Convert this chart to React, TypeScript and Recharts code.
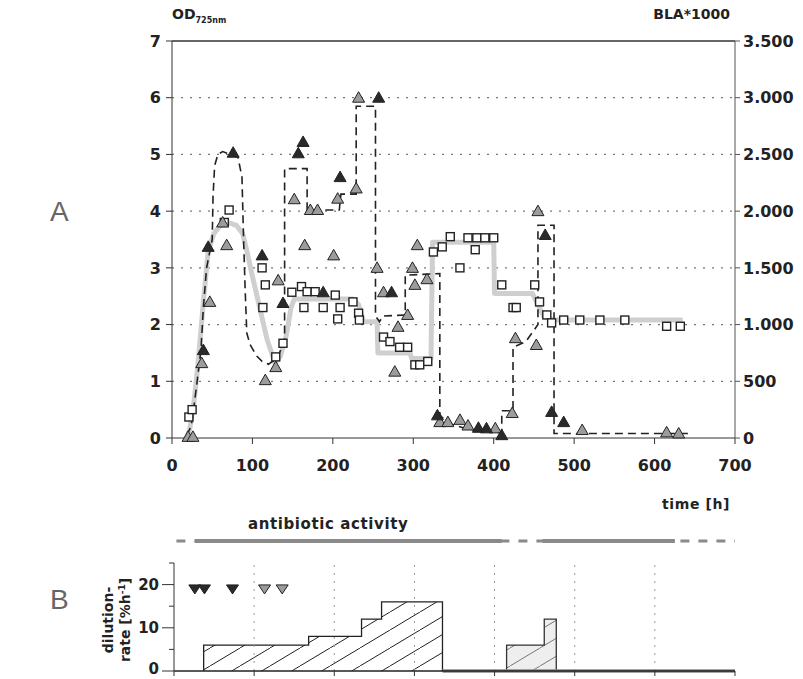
import React from "react";
import { Area, ComposedChart, Line, LineChart, ReferenceLine, Scatter, XAxis, YAxis } from "recharts";

type Pt = [number, number];

// axes
const timeTicks = [0, 100, 200, 300, 400, 500, 600, 700];
const odTicks = [0, 1, 2, 3, 4, 5, 6, 7];
const odGrid = [1, 2, 3, 4, 5, 6];
const blaTicks = [0, 500, 1000, 1500, 2000, 2500, 3000, 3500];
const blaTickLabels = ["0", "500", "1.000", "1.500", "2.000", "2.500", "3.000", "3.500"];
const dilutionTicks = [0, 5, 10, 15, 20, 25];
const dilutionMajor = [0, 10, 20];
const bGridTimes = [100, 200, 300, 400, 500, 600];

// panel A: OD (dashed line + triangles), BLA*1000 (grey line + squares)
const odDashed: Pt[] = [
  [18, 0.05], [22, 0.15], [25, 0.3], [31, 0.97], [36, 1.55], [39, 2.3], [43, 3.0], [50, 3.5],
  [51, 4.25], [53, 4.8], [57, 5.0], [63, 5.05], [82, 4.95], [87, 4.6], [89, 3.5], [91, 2.6],
  [93, 1.85], [97, 1.65], [105, 1.45], [112, 1.35], [120, 1.3], [130, 1.4], [137, 1.6], [140, 1.65],
  [140, 4.75], [168, 4.75], [168, 4.02], [208, 4.02], [210, 4.3], [229, 4.3], [229, 5.85], [253, 5.85],
  [253, 2.15], [258, 2.05], [262, 2.15], [290, 2.17], [290, 2.87], [333, 2.9], [333, 0.4], [345, 0.25],
  [370, 0.15], [400, 0.1], [410, 0.1], [410, 0.48], [424, 0.48], [424, 1.6], [440, 1.7], [455, 2.0],
  [455, 3.75], [475, 3.75], [475, 0.08], [645, 0.08],
];

const blaLine: Pt[] = [
  [18, 0], [22, 75], [27, 300], [32, 625], [36, 950], [39, 1200], [45, 1650], [52, 1800], [60, 1875],
  [70, 1900], [80, 1875], [88, 1800], [93, 1650], [100, 1425], [109, 1150], [118, 875], [128, 660],
  [135, 725], [142, 900], [148, 1150], [152, 1225], [225, 1225], [232, 1175], [238, 1025], [255, 1025],
  [256, 750], [296, 750], [298, 700], [322, 700], [324, 1725], [400, 1725], [401, 1275], [448, 1275],
  [455, 1175], [462, 1075], [475, 1040], [635, 1040],
];

const blaSquares: Pt[] = [
  [21, 185], [25, 250], [65, 1900], [71, 2010], [112, 1500], [116, 1350], [113, 1150], [129, 715],
  [138, 835], [149, 1285], [161, 1335], [168, 1290], [178, 1290], [164, 1150], [188, 1150], [209, 1150],
  [206, 1050], [203, 1260], [225, 1200], [232, 1100], [233, 1040], [263, 890], [271, 850], [283, 800],
  [293, 800], [302, 645], [308, 645], [318, 675], [325, 1640], [336, 1685], [346, 1775], [368, 1765],
  [379, 1765], [389, 1765], [400, 1765], [377, 1660], [358, 1500], [410, 1350], [451, 1350], [424, 1150],
  [428, 1150], [457, 1200], [466, 1085], [472, 1015], [487, 1040], [507, 1040], [532, 1040], [563, 1040],
  [615, 985], [632, 985],
];

const odBlackTriangles: Pt[] = [
  [39, 1.55], [45, 3.37], [76, 5.03], [112, 3.22], [138, 2.38], [157, 5.02], [163, 5.22], [188, 2.57],
  [209, 4.6], [257, 6.0], [273, 2.57], [330, 0.4], [381, 0.18], [391, 0.17], [410, 0.05], [464, 3.58],
  [472, 0.46], [487, 0.28],
];

const odGrayTriangles: Pt[] = [
  [20, 0.02], [26, 0.02], [37, 1.32], [47, 2.4], [63, 3.8], [68, 3.4], [116, 1.02], [129, 1.25],
  [132, 2.78], [152, 4.21], [165, 3.4], [172, 4.02], [181, 4.02], [201, 3.22], [206, 4.22], [229, 4.4],
  [232, 6.0], [255, 3.0], [263, 2.57], [277, 1.17], [281, 1.96], [293, 2.17], [299, 3.0], [302, 2.7],
  [305, 3.4], [317, 2.8], [333, 0.28], [343, 0.28], [358, 0.32], [368, 0.22], [402, 0.17], [423, 0.44],
  [427, 1.76], [453, 1.64], [455, 4.0], [510, 0.14], [615, 0.1], [630, 0.08],
];

// panel B: dilution rate steps [start time, rate from there on]
const dilutionSteps1: Pt[] = [[37, 6], [168, 8], [234, 12], [259, 16], [335, 0]];
const dilutionSteps2: Pt[] = [[415, 6], [462, 12], [477, 0]];
const dilutionZero: Pt[] = [[335, 0], [700, 0]];
const washBlack: Pt[] = [[26, 19], [38, 19], [73, 19]];
const washGray: Pt[] = [[113, 19], [135, 19]];

// antibiotic activity bar
const activityAll: Pt[] = [[3, 0.5], [700, 0.5]];
const activityOn1: Pt[] = [[26, 0.5], [409, 0.5]];
const activityOn2: Pt[] = [[460, 0.5], [625, 0.5]];

const rows = (pts: Pt[]) => pts.map(([t, v]) => ({ t, v }));

const stepRows = (steps: Pt[]) => {
  const out = [{ t: steps[0][0], v: 0 }];
  steps.forEach(([t, v], i) => {
    if (i > 0) out.push({ t, v: steps[i - 1][1] });
    out.push({ t, v });
  });
  return out;
};

const FONT = "'DejaVu Sans', 'Liberation Sans', sans-serif";
const tickStyle = { fontFamily: FONT, fontWeight: 700, fontSize: 16, fill: "#222" };

const triangle = (fill: string) => (props: any) => {
  const { cx, cy } = props;
  return <path d={`M${cx},${cy - 6} L${cx + 6},${cy + 4.5} L${cx - 6},${cy + 4.5} Z`} fill={fill} stroke="#222" strokeWidth={1} />;
};

const downTriangle = (fill: string) => (props: any) => {
  const { cx, cy } = props;
  return <path d={`M${cx - 6},${cy - 4} L${cx + 6},${cy - 4} L${cx},${cy + 5} Z`} fill={fill} stroke="#222" strokeWidth={1} />;
};

const square = (props: any) => {
  const { cx, cy } = props;
  return <rect x={cx - 4} y={cy - 4} width={8} height={8} fill="#fff" stroke="#222" strokeWidth={1.4} />;
};

// left tick of panel B: long ticks with labels at 0/10/20, short ones between
const dilutionTick = (p: any) => {
  const v = Number(p.payload.value);
  const major = dilutionMajor.includes(v);
  const len = major ? 12 : 5;
  return (
    <g>
      <line x1={p.x - len} x2={p.x} y1={p.y} y2={p.y} stroke="#333" />
      {major ? (
        <text x={p.x - len - 3} y={p.y + (v === 0 ? 3 : 5.5)} textAnchor="end" fill="#222" fontFamily={FONT} fontWeight={700} fontSize={15}>
          {String(v)}
        </text>
      ) : null}
    </g>
  );
};

const label = (style: React.CSSProperties): React.CSSProperties => ({
  position: "absolute",
  fontFamily: FONT,
  fontWeight: 700,
  color: "#222",
  whiteSpace: "nowrap",
  ...style,
});

export default function App() {
  return (
    <div style={{ position: "absolute", left: 0, top: 0, width: 803, height: 679, background: "#fff" }}>
      <ComposedChart width={803} height={482} margin={{ top: 41, right: 8, bottom: 2, left: 132 }}>
        <XAxis
          dataKey="t"
          type="number"
          domain={[0, 700]}
          ticks={timeTicks}
          interval={0}
          tick={tickStyle}
          tickSize={6}
          tickMargin={16}
          height={42}
          axisLine={{ stroke: "#333" }}
          tickLine={{ stroke: "#333" }}
        />
        <YAxis
          yAxisId="od"
          domain={[0, 7]}
          ticks={odTicks}
          interval={0}
          tick={tickStyle}
          width={40}
          tickSize={6}
          tickMargin={5}
          axisLine={{ stroke: "#333" }}
          tickLine={{ stroke: "#333" }}
        />
        <YAxis
          yAxisId="bla"
          orientation="right"
          domain={[0, 3500]}
          ticks={blaTicks}
          interval={0}
          tickFormatter={(v: number) => blaTickLabels[blaTicks.indexOf(v)]}
          tick={{ ...tickStyle, textAnchor: "start" }}
          width={60}
          tickSize={5}
          tickMargin={3}
          axisLine={{ stroke: "#555" }}
          tickLine={{ stroke: "#555" }}
        />
        {odGrid.map((v) => (
          <ReferenceLine key={v} yAxisId="od" y={v} stroke="#777" strokeDasharray="2 7" strokeWidth={1.3} />
        ))}
        <ReferenceLine yAxisId="od" y={7} stroke="#333" strokeWidth={1.5} />
        <Line yAxisId="bla" data={rows(blaLine)} dataKey="v" stroke="#cfcfcf" strokeWidth={5} dot={false} isAnimationActive={false} strokeLinejoin="round" />
        <Line yAxisId="od" data={rows(odDashed)} dataKey="v" stroke="#222" strokeWidth={1.6} strokeDasharray="8 5" dot={false} isAnimationActive={false} />
        <Scatter yAxisId="bla" data={rows(blaSquares)} dataKey="v" shape={square} isAnimationActive={false} />
        <Scatter yAxisId="od" data={rows(odGrayTriangles)} dataKey="v" shape={triangle("#9c9c9c")} isAnimationActive={false} />
        <Scatter yAxisId="od" data={rows(odBlackTriangles)} dataKey="v" shape={triangle("#2a2a2a")} isAnimationActive={false} />
      </ComposedChart>

      <div style={{ position: "absolute", left: 0, top: 531 }}>
        <LineChart width={803} height={20} margin={{ top: 0, right: 68, bottom: 0, left: 174 }}>
          <XAxis dataKey="t" type="number" domain={[0, 700]} hide />
          <YAxis domain={[0, 1]} hide />
          <Line data={rows(activityAll)} dataKey="v" stroke="#8a8a8a" strokeWidth={3} strokeDasharray="9 9" dot={false} isAnimationActive={false} />
          <Line data={rows(activityOn1)} dataKey="v" stroke="#8a8a8a" strokeWidth={4} dot={false} isAnimationActive={false} />
          <Line data={rows(activityOn2)} dataKey="v" stroke="#8a8a8a" strokeWidth={4} dot={false} isAnimationActive={false} />
        </LineChart>
      </div>

      <div style={{ position: "absolute", left: 0, top: 540 }}>
        <ComposedChart width={803} height={139} margin={{ top: 23, right: 68, bottom: 0, left: 124 }}>
          <defs>
            <pattern id="hatch1" width="30" height="18" patternUnits="userSpaceOnUse">
              <rect width="30" height="18" fill="#fff" />
              <path d="M0,18 L30,0" stroke="#222" strokeWidth={1} />
            </pattern>
            <pattern id="hatch2" width="30" height="18" patternUnits="userSpaceOnUse">
              <rect width="30" height="18" fill="#eeeeee" />
              <path d="M0,18 L30,0" stroke="#777" strokeWidth={1} />
            </pattern>
          </defs>
          <XAxis
            dataKey="t"
            type="number"
            domain={[0, 700]}
            ticks={timeTicks}
            interval={0}
            tickFormatter={() => ""}
            height={8}
            tickSize={5}
            axisLine={{ stroke: "#222", strokeWidth: 1.5 }}
            tickLine={{ stroke: "#333" }}
          />
          <YAxis
            domain={[0, 25]}
            ticks={dilutionTicks}
            interval={0}
            tick={dilutionTick}
            tickLine={false}
            tickSize={0}
            tickMargin={0}
            width={50}
            axisLine={{ stroke: "#333" }}
          />
          {bGridTimes.map((t) => (
            <ReferenceLine key={t} x={t} stroke="#999" strokeDasharray="2 6" />
          ))}
          <Area data={stepRows(dilutionSteps1)} dataKey="v" type="linear" stroke="#222" strokeWidth={1.3} fill="url(#hatch1)" fillOpacity={1} isAnimationActive={false} />
          <Area data={stepRows(dilutionSteps2)} dataKey="v" type="linear" stroke="#333" strokeWidth={1.3} fill="url(#hatch2)" fillOpacity={1} isAnimationActive={false} />
          <Line data={rows(dilutionZero)} dataKey="v" stroke="#888" strokeWidth={3.5} dot={false} isAnimationActive={false} />
          <Scatter data={rows(washBlack)} dataKey="v" shape={downTriangle("#2a2a2a")} isAnimationActive={false} />
          <Scatter data={rows(washGray)} dataKey="v" shape={downTriangle("#9c9c9c")} isAnimationActive={false} />
        </ComposedChart>
      </div>

      <div style={label({ left: 172, top: 6, fontSize: 14 })}>
        OD<span style={{ fontSize: 8, position: "relative", top: 4 }}>725nm</span>
      </div>
      <div style={label({ right: 73, top: 6, fontSize: 14 })}>BLA*1000</div>
      <div style={label({ left: 662, top: 496, fontSize: 14, letterSpacing: 0.6 })}>time [h]</div>
      <div style={label({ left: 248, top: 515, fontSize: 15, letterSpacing: 0.6 })}>antibiotic activity</div>
      <div style={label({ left: 50, top: 196, fontSize: 28, fontWeight: 400, color: "#666", fontFamily: "'Liberation Sans', sans-serif" })}>A</div>
      <div style={label({ left: 50, top: 584, fontSize: 28, fontWeight: 400, color: "#666", fontFamily: "'Liberation Sans', sans-serif" })}>B</div>
      <div style={label({ left: 108, top: 620, fontSize: 14, transform: "translate(-50%, -50%) rotate(-90deg)" })}>dilution-</div>
      <div style={label({ left: 125, top: 620, fontSize: 14, transform: "translate(-50%, -50%) rotate(-90deg)" })}>
        rate [%h<sup style={{ fontSize: 9 }}>-1</sup>]
      </div>
    </div>
  );
}
